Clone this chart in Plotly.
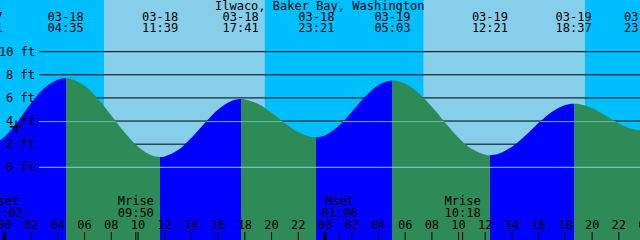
import numpy as np
import plotly.graph_objects as go

W, H = 640, 240
FONT = "DejaVu Sans Mono"

TITLE = "Ilwaco, Baker Bay, Washington"

# ---- tide extremes (labels shown at the top) ----
ext_dates = ["03-17", "03-18", "03-18", "03-18", "03-18", "03-19", "03-19", "03-19", "03-19"]
ext_clock = ["22:31", "04:35", "11:39", "17:41", "23:21", "05:03", "12:21", "18:37", "23:44"]
ext_levels = [1.8, 7.7, 0.9, 5.9, 2.6, 7.5, 1.05, 5.5, 3.2]

# ---- hourly tide readings (ft), first reading 03-17 23:00 ----
hourly_first_date = "03-17"
hourly_first_clock = "23:00"
hourly_levels = [
    1.89, 2.63, 3.95, 5.55, 6.85, 7.57,          # 23 .. 04
    7.64, 7.05, 5.92, 4.48, 3.00, 1.77, 1.04,    # 05 .. 11
    0.94, 1.49, 2.55, 3.83, 5.00, 5.74,          # 12 .. 17
    5.87, 5.48, 4.72, 3.81, 3.04, 2.63,          # 18 .. 23
    2.76, 3.54, 4.78, 6.10, 7.10, 7.50,          # 00 .. 05 (03-19)
    7.23, 6.43, 5.23, 3.86, 2.56, 1.58, 1.09,    # 06 .. 12
    1.17, 1.77, 2.74, 3.85, 4.81, 5.39,          # 13 .. 18
    5.47, 5.11, 4.47, 3.79, 3.31,                # 19 .. 23
]

# ---- sun (sunrise, sunset, sunrise, sunset) ----
sun_dates = ["03-18", "03-18", "03-19", "03-19"]
sun_clock = ["07:27", "19:30", "07:22", "19:28"]

# ---- moon events ----
moon_names = ["Mset", "Mrise", "Mset", "Mrise"]
moon_dates = ["03-18", "03-18", "03-19", "03-19"]
moon_clock = ["00:02", "09:50", "01:06", "10:18"]

# ---- depth scale ----
depth_levels = [0, 2, 4, 6, 8, 10]
depth_labels = ["0 ft", "2 ft", "4 ft", "6 ft", "8 ft", "10 ft"]
datum_level = 0.0
msl_level = 3.95

# ---- "now" mark ----
now_date, now_clock, now_level = "03-18", "00:52", 3.5

# ---- view window ----
view_start = ("03-17", "23:40")
view_end = ("03-19", "23:35")
depth_min, depth_max = -6.29, 14.47

# colours
NIGHT = "#00BFFF"
DAY = "#87CEEB"
FLOOD = "#0000FF"
EBB = "#2E8B57"
DATUM_C = "#8FD1EC"
MSL_C = "#6DB4A2"


def hours(date, clock):
    day = int(date[3:]) - 18
    hh, mm = clock.split(":")
    return day * 24 + int(hh) + int(mm) / 60.0


x0 = hours(*view_start)
x1 = hours(*view_end)

ext_x = [hours(d, c) for d, c in zip(ext_dates, ext_clock)]
h_first = hours(hourly_first_date, hourly_first_clock)
hour_x = [h_first + i for i in range(len(hourly_levels))]

# merge readings with extremes (skip readings that sit right next to an extreme)
pts = list(zip(ext_x, ext_levels))
for hx, hv in zip(hour_x, hourly_levels):
    if min(abs(hx - e) for e in ext_x) > 0.25 and ext_x[0] < hx < ext_x[-1]:
        pts.append((hx, hv))
pts.sort()
cx = np.array([p[0] for p in pts])
cy = np.array([p[1] for p in pts])

fig = go.Figure()

# background day/night bands
sun_x = [hours(d, c) for d, c in zip(sun_dates, sun_clock)]
edges = [x0 - 5] + sun_x + [x1 + 5]
shapes = []
for i in range(len(edges) - 1):
    shapes.append(dict(type="rect", xref="x", yref="paper", x0=edges[i], x1=edges[i + 1],
                       y0=0, y1=1, fillcolor=NIGHT if i % 2 == 0 else DAY,
                       line=dict(width=0), layer="below"))
# black depth lines (hidden by water)
for lv in depth_levels:
    shapes.append(dict(type="line", xref="paper", yref="y", x0=39 / W, x1=1, y0=lv, y1=lv,
                       line=dict(color="black", width=1), layer="below"))

# water fill: flood (rising) blue, ebb (falling) green
span = ext_x[-1] - ext_x[0]
cs = []
for i in range(len(ext_x) - 1):
    col = FLOOD if ext_levels[i + 1] > ext_levels[i] else EBB
    a = (ext_x[i] - ext_x[0]) / span
    b = (ext_x[i + 1] - ext_x[0]) / span
    cs.append([a, col])
    cs.append([b, col])

fig.add_trace(go.Scatter(x=[cx[0], cx[-1]], y=[depth_min - 1, depth_min - 1], mode="lines",
                         line=dict(width=0), hoverinfo="skip", showlegend=False))
fig.add_trace(go.Scatter(x=cx, y=cy, mode="lines", line=dict(width=0, shape="spline"),
                         fill="tonexty",
                         fillgradient=dict(type="horizontal", colorscale=cs,
                                           start=ext_x[0], stop=ext_x[-1]),
                         hoverinfo="skip", showlegend=False))

# mean sea level line, visible only under water
line_start = x0 + 39 / W * (x1 - x0)
gx = np.linspace(line_start, x1, 3000)
gy = np.interp(gx, cx, cy)
my = np.where(gy >= msl_level, msl_level, np.nan)
fig.add_trace(go.Scatter(x=gx, y=my, mode="lines", line=dict(color=MSL_C, width=1),
                         connectgaps=False, hoverinfo="skip", showlegend=False))
# datum line
fig.add_trace(go.Scatter(x=[line_start, x1], y=[datum_level, datum_level], mode="lines",
                         line=dict(color=DATUM_C, width=1), hoverinfo="skip", showlegend=False))

# "now" mark
fig.add_trace(go.Scatter(x=[hours(now_date, now_clock)], y=[now_level], mode="markers",
                         marker=dict(symbol="cross-thin", size=9,
                                     line=dict(width=1.5, color="black")),
                         hoverinfo="skip", showlegend=False))

tf = dict(family=FONT, size=12, color="black")


def text_row(xs, texts, ypix):
    fig.add_trace(go.Scatter(x=xs, y=[ypix] * len(xs), text=texts, mode="text",
                             textposition="middle center", textfont=tf, yaxis="y2",
                             hoverinfo="skip", showlegend=False))


# extreme labels
text_row(ext_x, ext_dates, 17.5)
text_row(ext_x, ext_clock, 29)

# moon labels
moon_x = [hours(d, c) for d, c in zip(moon_dates, moon_clock)]
text_row(moon_x, moon_names, 202)
text_row(moon_x, moon_clock, 213.5)

# hour tick labels
tick_x = list(range(0, 49, 2))
tick_txt = ["%02d" % (t % 24) for t in tick_x]
text_row(tick_x, tick_txt, 225.5)

# tick marks
for t in tick_x:
    wd = 3 if t % 24 == 0 else 1
    shapes.append(dict(type="line", xref="x", yref="paper", x0=t, x1=t, y0=0, y1=8 / H,
                       line=dict(color="black", width=wd), layer="above"))
for mx in moon_x:
    shapes.append(dict(type="line", xref="x", yref="paper", x0=mx, x1=mx, y0=0, y1=8 / H,
                       line=dict(color="black", width=1), layer="above"))

annotations = [dict(text=TITLE, xref="paper", yref="paper", x=0.5, y=1 - 6 / H,
                    xanchor="center", yanchor="middle", showarrow=False, font=tf)]
for lv, lb in zip(depth_levels, depth_labels):
    annotations.append(dict(text=lb, xref="paper", yref="y", x=36 / W, y=lv,
                            xanchor="right", yanchor="middle", showarrow=False, font=tf,
                            borderpad=0))

fig.update_layout(
    width=W, height=H, margin=dict(l=0, r=0, t=0, b=0),
    paper_bgcolor=NIGHT, plot_bgcolor=NIGHT,
    xaxis=dict(range=[x0, x1], visible=False, fixedrange=True),
    yaxis=dict(range=[depth_min, depth_max], visible=False, fixedrange=True),
    yaxis2=dict(range=[H, 0], overlaying="y", visible=False, fixedrange=True),
    shapes=shapes, annotations=annotations, showlegend=False,
)

fig.write_html("out.html", config={"displayModeBar": False})
